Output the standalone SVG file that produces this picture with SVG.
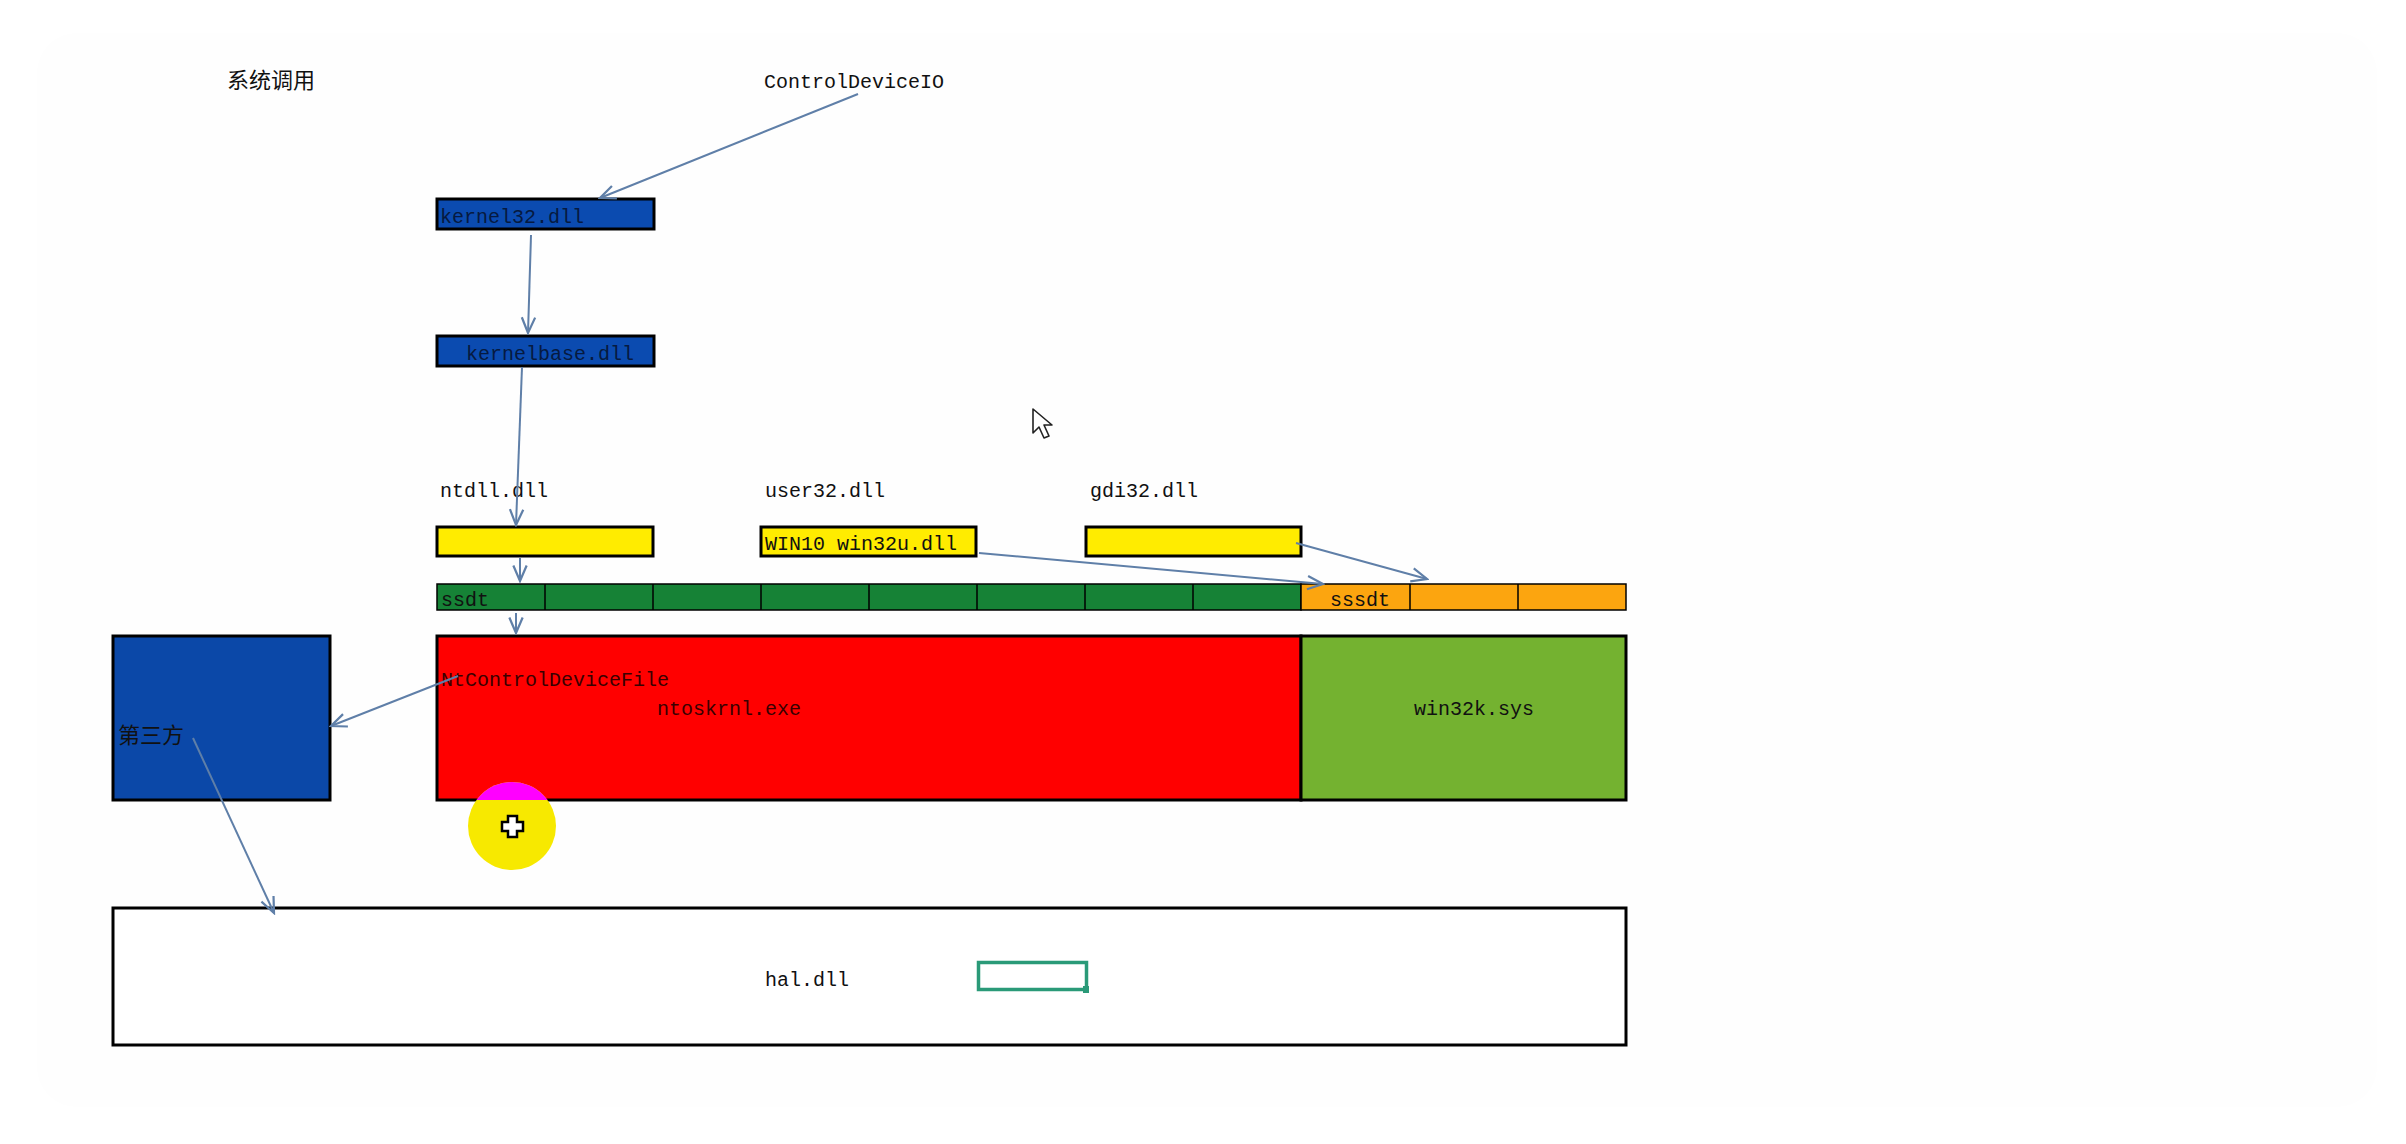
<svg xmlns="http://www.w3.org/2000/svg" width="2406" height="1144" viewBox="0 0 2406 1144">
<style>
.mono{font-family:"Liberation Mono","DejaVu Sans Mono",monospace;font-size:20px;fill:#111}
.cjk{font-family:"Noto Sans CJK SC","Noto Sans",sans-serif;font-size:22px;fill:#111}
.box{stroke:#000;stroke-width:3}
.cell{stroke:#000;stroke-width:1.5}
.conn{stroke:#5f7fa8;stroke-width:2;fill:none;marker-end:url(#arr)}
</style>
<defs>
<marker id="arr" markerUnits="userSpaceOnUse" markerWidth="20" markerHeight="20" viewBox="-2 -8 18 16" refX="14" refY="0" orient="auto">
<path d="M0,-6 L14,0 L0,6" fill="none" stroke="#5f7fa8" stroke-width="2"/>
</marker>
<clipPath id="redclip"><rect x="437" y="636" width="864" height="164"/></clipPath>
</defs>
<rect width="2406" height="1144" fill="#ffffff"/>
<rect x="37" y="33" width="2340" height="1074" rx="40" fill="#fefefe"/>

<g id="title"><text class="cjk" x="227" y="88">系统调用</text></g>
<g id="controldeviceio"><text class="mono" x="764" y="88">ControlDeviceIO</text></g>

<g id="kernel32">
<rect class="box" x="437" y="199" width="217" height="30" fill="#0b4bb0"/>
<text class="mono" x="440" y="223" style="fill:#061a40">kernel32.dll</text>
</g>
<g id="kernelbase">
<rect class="box" x="437" y="336" width="217" height="30" fill="#0b4bb0"/>
<text class="mono" x="466" y="360" style="fill:#061a40">kernelbase.dll</text>
</g>

<g id="ntdll">
<text class="mono" x="440" y="497">ntdll.dll</text>
<rect class="box" x="437" y="527" width="216" height="29" fill="#ffec00"/>
</g>
<g id="user32">
<text class="mono" x="765" y="497">user32.dll</text>
<rect class="box" x="761" y="527" width="215" height="29" fill="#ffec00"/>
<text class="mono" x="765" y="550">WIN10 win32u.dll</text>
</g>
<g id="gdi32">
<text class="mono" x="1090" y="497">gdi32.dll</text>
<rect class="box" x="1086" y="527" width="215" height="29" fill="#ffec00"/>
</g>

<g id="ssdt">
<rect class="cell" x="437" y="584" width="864" height="26" fill="#168236"/>
<path class="cell" d="M545,584V610M653,584V610M761,584V610M869,584V610M977,584V610M1085,584V610M1193,584V610"/>
<text class="mono" x="441" y="606">ssdt</text>
</g>
<g id="sssdt">
<rect class="cell" x="1301" y="584" width="325" height="26" fill="#fca50f"/>
<path class="cell" d="M1410,584V610M1518,584V610"/>
<text class="mono" x="1330" y="606">sssdt</text>
</g>

<g id="third">
<rect class="box" x="113" y="636" width="217" height="164" fill="#0b48a8"/>
<text class="cjk" x="118" y="743">第三方</text>
</g>

<g id="ntoskrnl">
<rect class="box" x="437" y="636" width="864" height="164" fill="#ff0000"/>
<text class="mono" x="441" y="686" style="fill:#3a0000">NtControlDeviceFile</text>
<text class="mono" x="657" y="715" style="fill:#3a0000">ntoskrnl.exe</text>
</g>

<g id="win32k">
<rect class="box" x="1301" y="636" width="325" height="164" fill="#74b230"/>
<text class="mono" x="1414" y="715">win32k.sys</text>
</g>

<g id="hal">
<rect class="box" x="113" y="908" width="1513" height="137" fill="#ffffff"/>
<text class="mono" x="765" y="986">hal.dll</text>
<rect x="978.5" y="962.5" width="108" height="27" fill="none" stroke="#2a9a78" stroke-width="3.5"/>
<rect x="1083" y="986" width="6" height="7" fill="#2a9a78"/>
</g>

<g id="connectors">
<line class="conn" x1="858" y1="94" x2="600" y2="198"/>
<line class="conn" x1="531" y1="235" x2="528" y2="333"/>
<line class="conn" x1="522" y1="367" x2="516" y2="525"/>
<line class="conn" x1="520" y1="558" x2="520" y2="581"/>
<line class="conn" x1="979" y1="553" x2="1323" y2="584"/>
<line class="conn" x1="1296" y1="543" x2="1427" y2="579"/>
<line class="conn" x1="516" y1="613" x2="516" y2="633"/>
<line class="conn" x1="458" y1="676" x2="331" y2="726"/>
<line class="conn" x1="193" y1="738" x2="274" y2="913"/>
</g>

<g id="cursor-highlight">
<circle cx="512" cy="826" r="44" fill="#f7e900"/>
<circle cx="512" cy="826" r="44" fill="#ff00ff" clip-path="url(#redclip)"/>
<path d="M508,816h9v6h6v9h-6v6h-9v-6h-6v-9h6z" fill="#ffffff" stroke="#000" stroke-width="2.5"/>
</g>
<g id="pointer">
<path d="M1033,409 L1033,433 L1039,427 L1044,438 L1049,436 L1044,425 L1052,425 Z" fill="#ffffff" stroke="#222" stroke-width="1.6" stroke-linejoin="round"/>
</g>
</svg>
